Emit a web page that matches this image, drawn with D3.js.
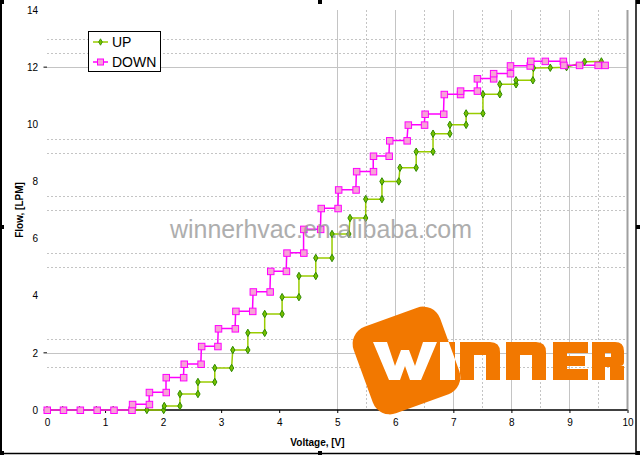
<!DOCTYPE html>
<html><head><meta charset="utf-8">
<script src="https://cdn.jsdelivr.net/npm/d3@7"></script>
<style>body{margin:0;background:#fff}svg{display:block}text{font-family:"Liberation Sans",Arial,sans-serif}</style>
</head><body><svg id="c" width="640" height="455"></svg>
<script>
const xTicks=[0,1,2,3,4,5,6,7,8,9,10];
const yTicks=[0,2,4,6,8,10,12,14];
const yTickMarks=[0,2,12];
const hGridSolid=[2,12];
const hGridDotted=[1.5,2.5,5,5.5,7,7.5,9,9.5,12.5,13];
const vGridSolid=[5,6,7,8,9];
const vGridDotted=[5.5,6.5,7.5,8.5,9.5];
const seriesNames=["UP","DOWN"];
const upV=[0,0.27,0.56,0.85,1.14,1.44,1.72,2.01,2.02,2.29,2.29,2.6,2.6,2.89,2.89,3.18,3.2,3.46,3.46,3.75,3.75,4.05,4.05,4.34,4.34,4.63,4.63,4.91,4.91,5.2,5.22,5.49,5.49,5.77,5.77,6.06,6.08,6.36,6.36,6.65,6.65,6.94,6.94,7.22,7.22,7.51,7.51,7.8,7.8,8.08,8.08,8.37,8.38,8.67,8.95,9.26,9.55];
const upF=[0,0,0,0,0,0,0,0,0.14,0.14,0.56,0.56,0.98,0.98,1.47,1.47,2.1,2.1,2.7,2.7,3.36,3.36,3.95,3.95,4.69,4.69,5.32,5.32,6.16,6.16,6.72,6.72,7.38,7.38,8.0,8.0,8.48,8.48,9.04,9.04,9.67,9.67,9.98,9.98,10.38,10.38,11.05,11.05,11.4,11.4,11.54,11.54,11.97,11.98,12.0,12.19,12.2];
const downV=[0,0.28,0.57,0.86,1.15,1.46,1.47,1.76,1.76,2.05,2.05,2.35,2.36,2.65,2.66,2.94,2.95,3.24,3.25,3.54,3.55,3.84,3.85,4.12,4.13,4.42,4.42,4.71,4.72,5.01,5.02,5.32,5.33,5.62,5.62,5.89,5.9,6.2,6.22,6.5,6.51,6.83,6.84,7.12,7.12,7.41,7.41,7.69,7.69,7.98,7.98,8.32,8.33,8.58,8.89,8.9,9.17,9.49,9.61];
const downF=[0,0,0,0,0,0,0.2,0.2,0.62,0.62,1.14,1.14,1.61,1.61,2.23,2.23,2.85,2.85,3.46,3.46,4.14,4.14,4.86,4.86,5.5,5.5,6.33,6.33,7.06,7.06,7.71,7.71,8.35,8.35,8.89,8.89,9.43,9.43,9.98,9.98,10.36,10.36,11.05,11.05,11.17,11.17,11.6,11.6,11.78,11.78,12.05,12.05,12.21,12.21,12.21,12.07,12.07,12.07,12.07];

const svg=d3.select("#c");
const x=d3.scaleLinear().domain([0,10]).range([47,627.5]);
const y=d3.scaleLinear().domain([0,14]).range([410,10]);
const GRID="#c4c4c4";

// frame / selection handles
svg.append("line").attr("x1",1).attr("x2",1).attr("y1",0).attr("y2",455).attr("stroke","#000").attr("stroke-width",2);
svg.append("line").attr("x1",0).attr("x2",640).attr("y1",453.5).attr("y2",453.5).attr("stroke","#000").attr("stroke-width",1.5);
svg.append("line").attr("x1",636).attr("x2",636).attr("y1",0).attr("y2",455).attr("stroke","#000").attr("stroke-width",1.5);
[[0,0],[318,0],[636,0],[0,225],[636,225],[0,451],[318,451],[636,451]].forEach(p=>{
  svg.append("rect").attr("x",p[0]).attr("y",p[1]).attr("width",4).attr("height",4).attr("fill","#000");
});

// grid
const g=svg.append("g");
g.selectAll(".hd").data(hGridDotted).join("line").attr("x1",x(0)).attr("x2",x(10)).attr("y1",d=>Math.round(y(d))+0.5).attr("y2",d=>Math.round(y(d))+0.5).attr("stroke",GRID).attr("stroke-dasharray","2,2");
g.selectAll(".hs").data(hGridSolid).join("line").attr("x1",x(0)).attr("x2",x(10)).attr("y1",d=>Math.round(y(d))+0.5).attr("y2",d=>Math.round(y(d))+0.5).attr("stroke",GRID);
g.selectAll(".vd").data(vGridDotted).join("line").attr("y1",y(14)).attr("y2",y(0)).attr("x1",d=>Math.round(x(d))+0.5).attr("x2",d=>Math.round(x(d))+0.5).attr("stroke",GRID).attr("stroke-dasharray","2,2");
g.selectAll(".vs").data(vGridSolid).join("line").attr("y1",y(14)).attr("y2",y(0)).attr("x1",d=>Math.round(x(d))+0.5).attr("x2",d=>Math.round(x(d))+0.5).attr("stroke",GRID);
svg.append("line").attr("x1",x(10)).attr("x2",x(10)).attr("y1",y(14)).attr("y2",y(0)).attr("stroke","#a0a0a0").attr("stroke-width",2);

// axes
const xa=svg.append("g").attr("transform",`translate(0,${y(0)})`).call(d3.axisBottom(x).tickValues(xTicks).tickSize(3).tickPadding(6).tickFormat(d3.format("d")));
xa.select(".domain").attr("stroke","#000").attr("stroke-width",1.5).attr("d",`M${x(0)},0H${x(10)}`);
xa.selectAll("text").attr("font-size",10).attr("font-family","Liberation Sans, Arial").attr("fill","#000");
const ya=svg.append("g").attr("transform",`translate(${x(0)},0)`).call(d3.axisLeft(y).tickValues(yTicks).tickSize(0).tickPadding(9).tickFormat(d3.format("d")));
ya.select(".domain").remove();
ya.selectAll("text").attr("font-size",10).attr("font-family","Liberation Sans, Arial").attr("fill","#000");
svg.selectAll(".ytm").data(yTickMarks).join("line").attr("x1",x(0)-3.5).attr("x2",x(0)).attr("y1",d=>y(d)).attr("y2",d=>y(d)).attr("stroke","#000");

svg.append("text").attr("x",317.5).attr("y",446).attr("text-anchor","middle").attr("font-size",10).attr("font-weight","bold").text("Voltage, [V]");
svg.append("text").attr("transform","translate(23,210) rotate(-90)").attr("text-anchor","middle").attr("font-size",10).attr("font-weight","bold").text("Flow, [LPM]");

// series
const up=upV.map((v,i)=>[v,upF[i]]);
const down=downV.map((v,i)=>[v,downF[i]]);
const line=d3.line().x(d=>x(d[0])).y(d=>y(d[1]));
const GREEN="#99cc00", GDARK="#2f8a00", MAG="#ff00ff", PINK="#f7a3d6";
svg.append("path").datum(up).attr("d",line).attr("fill","none").attr("stroke",GREEN).attr("stroke-width",1.5);
svg.append("path").datum(down).attr("d",line).attr("fill","none").attr("stroke",MAG).attr("stroke-width",1.5);
const diamond=d3.symbol().type(d3.symbolDiamond).size(16);
svg.selectAll(".um").data(up).join("path").attr("d",diamond).attr("transform",d=>`translate(${x(d[0])},${y(d[1])})`).attr("fill","#77c000").attr("stroke",GDARK).attr("stroke-width",1);
svg.selectAll(".dm").data(down).join("rect").attr("x",d=>x(d[0])-3).attr("y",d=>y(d[1])-3).attr("width",6.5).attr("height",6.5).attr("fill",PINK).attr("stroke",MAG).attr("stroke-width",1);

// legend
const lg=svg.append("g");
lg.append("rect").attr("x",88.5).attr("y",31.5).attr("width",72).attr("height",40).attr("fill","#fff").attr("stroke","#000");
lg.append("line").attr("x1",93).attr("x2",108).attr("y1",42).attr("y2",42).attr("stroke",GREEN).attr("stroke-width",1.5);
lg.append("path").attr("d",d3.symbol().type(d3.symbolDiamond).size(12)).attr("transform","translate(100.5,42)").attr("fill","#77c000").attr("stroke",GDARK).attr("stroke-width",0.8);
lg.append("line").attr("x1",93).attr("x2",108).attr("y1",62).attr("y2",62).attr("stroke",MAG).attr("stroke-width",1.5);
lg.append("rect").attr("x",97.5).attr("y",59).attr("width",6).attr("height",6).attr("fill",PINK).attr("stroke",MAG);
lg.append("text").attr("x",112).attr("y",47).attr("font-size",14).text(seriesNames[0]);
lg.append("text").attr("x",112).attr("y",67).attr("font-size",14).text(seriesNames[1]);

// watermark
svg.append("text").attr("x",170).attr("y",238).attr("font-size",25).attr("fill","#9a9a9a").attr("opacity",0.8).attr("textLength",302).attr("lengthAdjust","spacingAndGlyphs").text("winnerhvac.en.alibaba.com");

// logo
const ORANGE="#f27800";
const logo=svg.append("g");
const letters=[
  "M373,342 L387,342 L395,366 L401,350 L409,350 L415,366 L423,342 L437,342 L421,380 L410,380 L405,366 L400,380 L389,380 Z",
  "M440,342 H455 V380 H440 Z",
  "M460,380 V342 H490 Q500,342 500,352 V380 H486 V355 H474 V380 Z",
  "M506,380 V342 H536 Q546,342 546,352 V380 H532 V355 H520 V380 Z",
  "M553,342 H588 V353 H567 V356 H585 V366 H567 V369 H588 V380 H553 Z",
  "M592,380 V342 H615 Q624,342 624,351 V362 Q624,366 620,366 H624 V380 H610 V367 H605 V380 Z M605,353 V357 H611 V353 Z"
];
logo.selectAll(".lo").data(letters).join("path").attr("d",d=>d).attr("fill",ORANGE).attr("fill-rule","evenodd");
const defs=svg.append("defs");
defs.append("clipPath").attr("id","rr").append("rect").attr("x",-46).attr("y",-46).attr("width",92).attr("height",92).attr("rx",18).attr("transform","translate(406.5,360.5) rotate(-20)");
logo.append("rect").attr("x",-46).attr("y",-46).attr("width",92).attr("height",92).attr("rx",18).attr("fill",ORANGE).attr("transform","translate(406.5,360.5) rotate(-20)");
logo.append("g").attr("clip-path","url(#rr)").selectAll("path").data(letters).join("path").attr("d",d=>d).attr("fill","#fff").attr("fill-rule","evenodd");
</script></body></html>
